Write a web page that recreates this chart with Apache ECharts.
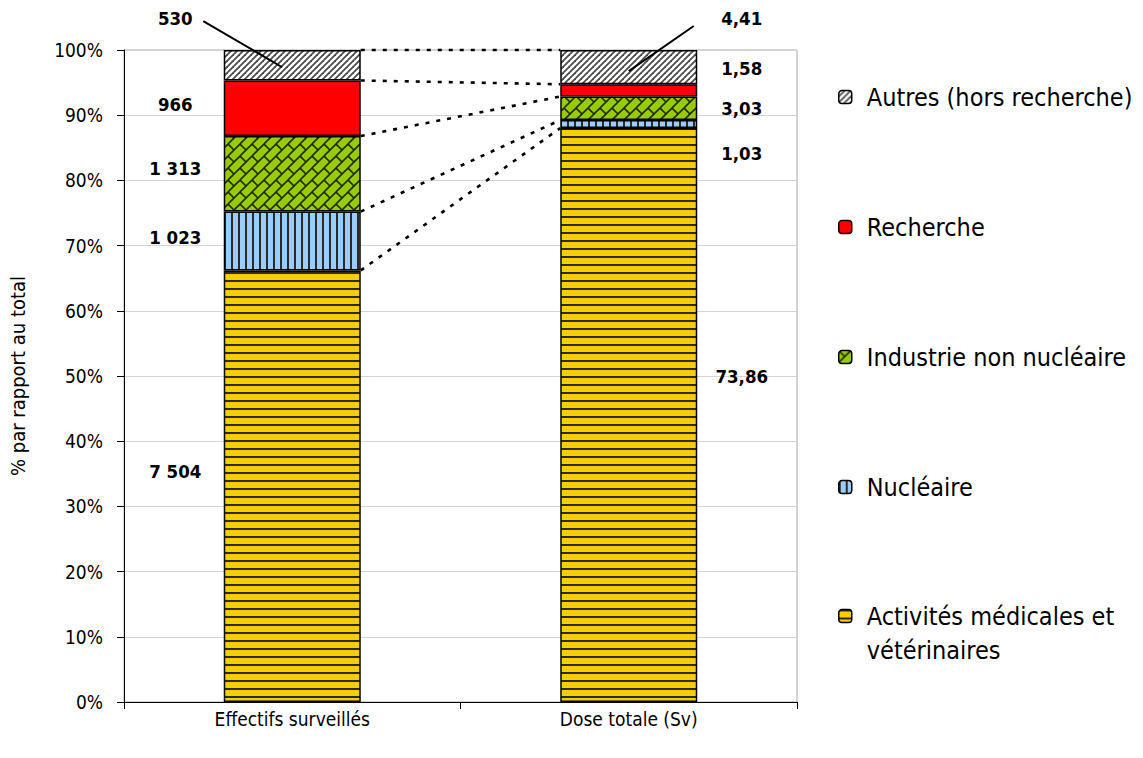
<!DOCTYPE html>
<html><head><meta charset="utf-8">
<script src="https://cdn.jsdelivr.net/npm/echarts@6/dist/echarts.min.js"></script>
<style>html,body{margin:0;padding:0;background:#fff}#c{width:1143px;height:758px}</style>
</head><body><div id="c"></div>
<script>
// ---------- DATA ----------
const categories = ['Effectifs surveillés', 'Dose totale (Sv)'];
const seriesNames = ['Activités médicales et vétérinaires', 'Nucléaire', 'Industrie non nucléaire', 'Recherche', 'Autres (hors recherche)'];
const effectifs = [7504, 1023, 1313, 966, 530];
const dose = [73.86, 1.03, 3.03, 1.58, 4.41];
const yMin = 0, yMax = 100, yInterval = 10;

// ---------- LAYOUT / STYLE ----------
const FONT = 'Tahoma, "DejaVu Sans Condensed", "DejaVu Sans", sans-serif';
const BAR_WIDTH = 137;
// label anchors (in axis %) : manual placement like the original
const labelAnchors = [[35.3, 71.3, 81.9, 91.7, 104.9], [50.0, 84.2, 91.0, 97.1, 104.9]];
const labelDx = [-117, 113];

function tile(size, bg, draw) {
  const cv = document.createElement('canvas');
  cv.width = size; cv.height = size;
  const ctx = cv.getContext('2d');
  ctx.fillStyle = bg; ctx.fillRect(0, 0, size, size);
  for (const dx of [-size, 0, size]) for (const dy of [-size, 0, size]) {
    ctx.save(); ctx.translate(dx, dy); draw(ctx); ctx.restore();
  }
  return { image: cv, repeat: 'repeat' };
}
const patterns = [
  tile(8, '#FFCC00', c => { c.fillStyle = '#2b2b2b'; c.fillRect(0, 0, 8, 2); }),
  tile(7, '#99CCFF', c => { c.fillStyle = '#2b2b2b'; c.fillRect(0, 0, 2, 7); }),
  tile(12, '#99CC00', c => {
    c.strokeStyle = '#1f2a00'; c.lineWidth = 1.6;
    c.beginPath(); c.moveTo(0, 12); c.lineTo(12, 0); c.stroke();
    c.beginPath(); c.moveTo(0, 0); c.lineTo(6, 6); c.stroke();
  }),
  '#FF0000',
  tile(6, '#ffffff', c => {
    c.strokeStyle = '#4a4a4a'; c.lineWidth = 1.8;
    c.beginPath(); c.moveTo(0, 6); c.lineTo(6, 0); c.stroke();
  })
];

function fmt(v) {
  if (Number.isInteger(v)) return String(v).replace(/\B(?=(\d{3})+(?!\d))/g, ' ');
  return v.toFixed(2).replace('.', ',');
}

const raw = [effectifs, dose];
const totals = raw.map(a => a.reduce((s, v) => s + v, 0));
const pct = raw.map((a, i) => a.map(v => v / totals[i] * 100));
const cum = pct.map(a => { let s = 0; return a.map(v => (s += v)); });

const barSeries = seriesNames.map((name, s) => ({
  name, type: 'bar', stack: 'total', barWidth: BAR_WIDTH,
  data: [pct[0][s], pct[1][s]],
  itemStyle: { color: patterns[s], borderColor: '#000', borderWidth: 1.5 },
  emphasis: { disabled: true }, z: 2
}));

const connectorData = cum[0].map((v, s) => [0, v, cum[1][s]]);
const labelData = [];
for (let c = 0; c < 2; c++) for (let s = 0; s < seriesNames.length; s++) labelData.push([c, labelAnchors[c][s], s]);

const chart = echarts.init(document.getElementById('c'), null, { renderer: 'svg' });
chart.setOption({
  animation: false,
  backgroundColor: '#fff',
  grid: { left: 122, right: 346, top: 50, bottom: 56, show: true, borderColor: '#a6a6a6', borderWidth: 1 },
  xAxis: {
    type: 'category', data: categories,
    axisLine: { lineStyle: { color: '#000', width: 1 } },
    axisTick: { show: true, length: 7, lineStyle: { color: '#000' } },
    axisLabel: { color: '#000', fontSize: 19, fontFamily: FONT, margin: 7 }
  },
  yAxis: {
    type: 'value', min: yMin, max: yMax, interval: yInterval,
    name: '% par rapport au total', nameLocation: 'middle', nameGap: 96,
    nameTextStyle: { color: '#000', fontSize: 20, fontFamily: FONT },
    axisLine: { show: true, lineStyle: { color: '#000', width: 1 } },
    axisTick: { show: true, length: 7, lineStyle: { color: '#000' } },
    axisLabel: { color: '#000', fontSize: 19, fontFamily: FONT, margin: 21, formatter: '{value}%' },
    splitLine: { show: true, lineStyle: { color: '#d4d4d4', width: 1 } }
  },
  legend: [{
    orient: 'vertical', left: 833, top: 77, itemWidth: 13, itemHeight: 13, itemGap: 100,
    selectedMode: false,
    data: [seriesNames[4], seriesNames[3], seriesNames[2], seriesNames[1]],
    itemStyle: { borderColor: '#000', borderWidth: 1.5 },
    textStyle: { color: '#000', fontSize: 25, fontFamily: FONT, lineHeight: 30, padding: [0, 0, 0, 10] }
  }, {
    orient: 'vertical', left: 833, top: 560, itemWidth: 13, itemHeight: 13,
    selectedMode: false,
    data: [seriesNames[0]],
    formatter: () => '\nActivités médicales et\nvétérinaires',
    itemStyle: { borderColor: '#000', borderWidth: 1.5 },
    textStyle: { color: '#000', fontSize: 25, fontFamily: FONT, lineHeight: 34, padding: [0, 0, 0, 10] }
  }],
  series: barSeries.concat([{
    type: 'custom', coordinateSystem: 'cartesian2d', data: connectorData,
    encode: { x: 0, y: 1 }, silent: true, z: 3,
    renderItem: (params, api) => {
      const a = api.coord([0, api.value(1)]);
      const b = api.coord([1, api.value(2)]);
      const hw = BAR_WIDTH / 2;
      return { type: 'line', shape: { x1: a[0] + hw, y1: a[1], x2: b[0] - hw, y2: b[1] },
        style: { stroke: '#000', lineWidth: 2.6, lineDash: [4, 7] } };
    }
  }, {
    type: 'custom', coordinateSystem: 'cartesian2d', data: labelData,
    encode: { x: 0, y: 1 }, silent: true, z: 4,
    renderItem: (params, api) => {
      const c = api.value(0), s = api.value(2);
      const p = api.coord([c, api.value(1)]);
      const x = p[0] + labelDx[c];
      const children = [{
        type: 'text', x, y: p[1],
        style: { text: fmt(raw[c][s]), fill: '#000', font: 'bold 18.5px ' + FONT, align: 'center', verticalAlign: 'middle' }
      }];
      if (s === seriesNames.length - 1) {
        const m = api.coord([c, cum[c][s] - pct[c][s] / 2]);
        const start = c === 0 ? [x + 28, p[1] + 3] : [x - 48, p[1] + 8];
        const end = c === 0 ? [m[0] - 10, m[1] + 2] : [m[0], m[1] + 4];
        children.push({ type: 'line', shape: { x1: start[0], y1: start[1], x2: end[0], y2: end[1] },
          style: { stroke: '#000', lineWidth: 2 } });
      }
      return { type: 'group', children };
    }
  }])
});
</script>
</body></html>
